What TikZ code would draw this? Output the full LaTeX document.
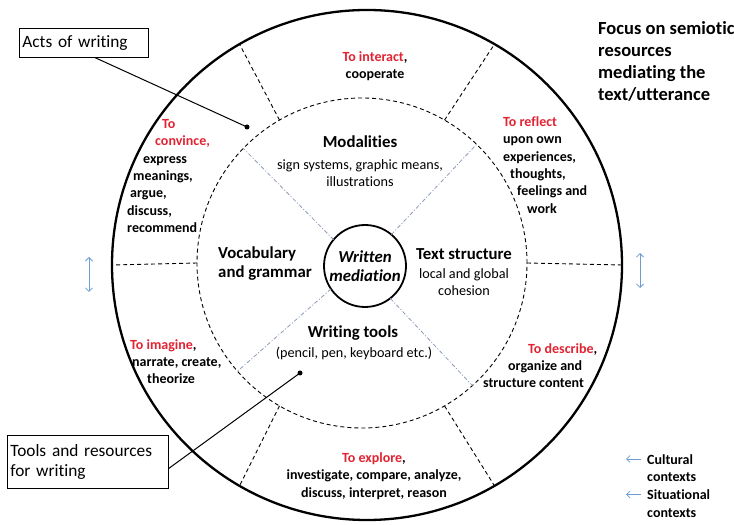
\documentclass[tikz,border=0pt]{standalone}
\usepackage{fontspec}
\setmainfont{Carlito}[Ligatures = NoCommon]
\usetikzlibrary{calc, arrows.meta}

\definecolor{actred}{RGB}{225,35,50}
\definecolor{ctxblue}{RGB}{110,155,210}
\definecolor{rayblue}{RGB}{140,155,182}

\tikzset{
    actlabel/.style = {font = \fontsize{14}{17.3}\selectfont\bfseries, inner sep = 0pt},
    arealabel/.style = {font = \fontsize{16.8}{19}\selectfont\bfseries, inner sep = 0pt},
    areanote/.style = {font = \fontsize{14.2}{17}\selectfont, inner sep = 0pt},
    ringdash/.style = {line width = 0.9pt, dash pattern = on 4pt off 3pt},
    raydash/.style = {rayblue, line width = 0.8pt, dash pattern = on 4pt off 2pt on 1pt off 2pt},
    calloutbox/.style = {draw, line width = 0.8pt, align = left, inner xsep = 3pt, inner ysep = 2pt,
        font = \fontsize{17.3}{20}\selectfont},
    callline/.style = {line width = 1pt},
    dotmark/.style = {circle, fill, inner sep = 0pt, minimum size = 5pt},
    ctxarrow/.style = {ctxblue, line width = 0.8pt, -{Straight Barb[length = 3.5pt, width = 7pt]}}
}

\begin{document}
\begin{tikzpicture}[x = 1pt, y = 1pt]
    \useasboundingbox (+0, +0) rectangle (+734, +525);

    % Centres of the three rings
    \coordinate (outc) at (+367, +260);
    \coordinate (dashc) at (+362, +262);
    \coordinate (innc) at (+365, +259);

    % === Rings ===
    % Outer ring
    \draw[line width = 2.3pt] (outc) circle[radius = 255];

    % Dashed middle ring
    \draw[ringdash] (dashc) circle[radius = 165];

    % Sector borders of the outer ring
    \foreach \a in {0, 60, ..., 300}
        \draw[ringdash] ($(dashc) + (\a:165)$) -- ($(outc) + (\a:255)$);

    % Written mediation
    \node[circle, draw, line width = 1.8pt, minimum size = 82pt, inner sep = 0pt, align = center,
        font = \fontsize{16.8}{19}\selectfont\bfseries\itshape] (written) at (innc) {Written\\mediation};

    % Borders of the inner sectors
    \foreach \a/\b in {50/46, 140/136, 214/221, 308/312}
        \draw[raydash] ($(innc) + (\a:41)$) -- ($(dashc) + (\b:165)$);

    % === Inner sectors ===
    % Modalities
    \node[arealabel] (modal) at (+360, +383) {Modalities};
    \node[areanote, align = center] (modalnote) at (+360, +351.5) {sign systems, graphic means,\\illustrations};

    % Vocabulary and grammar
    \node[arealabel, align = left, anchor = west] (vocab) at (+218, +261.5) {Vocabulary\\and grammar};

    % Text structure
    \node[arealabel] (textstruct) at (+464, +271) {Text structure};
    \node[areanote, align = center] (textnote) at (+464, +242.5) {local and global\\cohesion};

    % Writing tools
    \node[arealabel] (wtools) at (+353, +192) {Writing tools};
    \node[areanote] (wtoolsnote) at (+354, +172) {(pencil, pen, keyboard etc.)};

    % === Outer sectors ===
    % To interact
    \node[actlabel, align = center] (interact) at (+375, +459) {\textcolor{actred}{To interact},\\cooperate};

    % To reflect
    \node[actlabel, align = left, anchor = west] (reflect) at (+503, +360) {\textcolor{actred}{To reflect}\\upon own\\experiences,\\
        \hspace*{7pt}thoughts,\\\hspace*{14pt}feelings and\\\hspace*{24pt}work};

    % To convince
    \node[actlabel, align = left, anchor = west] (convince) at (+127, +349) {\hspace*{35pt}\textcolor{actred}{To}\\
        \hspace*{28pt}\textcolor{actred}{convince,}\\\hspace*{16pt}express\\\hspace*{6pt}meanings,\\
        \hspace*{3pt}argue,\\discuss,\\recommend};

    % To imagine
    \node[actlabel, align = left, anchor = west] (imagine) at (+130, +163.5) {\textcolor{actred}{To imagine},\\
        \hspace*{2pt}narrate, create,\\\hspace*{17pt}theorize};

    % To describe
    \node[actlabel, align = left, anchor = west] (describe) at (+483, +159.5) {\hspace*{45pt}\textcolor{actred}{To describe},\\
        \hspace*{25pt}organize and\\structure content};

    % To explore
    \node[actlabel, align = center] (explore) at (+374, +49) {\textcolor{actred}{To explore},\\
        investigate, compare, analyze,\\discuss, interpret, reason};

    % === Call-outs ===
    % Acts of writing
    \node[calloutbox, anchor = north west, text width = 123pt, minimum height = 29pt] (acts) at (+19, +497) {Acts of writing};
    \node[dotmark] (actsdot) at (+247, +398) {};
    \draw[callline] ($(acts.south) + (+11.5, +0)$) -- (actsdot.center);

    % Tools and resources
    \node[calloutbox, anchor = north west, text width = 155pt, minimum height = 53pt] (toolsbox) at (+7, +90) {Tools and resources\\for writing};
    \node[dotmark] (toolsdot) at (+300, +152) {};
    \draw[callline] ($(toolsbox.east) + (+0, -6.5)$) -- (toolsdot.center);

    % === Right side ===
    % Focus
    \node[font = \fontsize{18.5}{22}\selectfont\bfseries, align = left, anchor = west, inner sep = 0pt] (focus)
        at (+598, +464) {Focus on semiotic\\resources\\mediating the\\text/utterance};

    % Contexts
    \node[actlabel, align = left, anchor = west] (cultural) at (+647, +57) {Cultural\\contexts};
    \node[actlabel, align = left, anchor = west] (situational) at (+647, +21.5) {Situational\\contexts};
    \draw[ctxarrow] ($(cultural.west) + (-6, +9)$) -- ++(-15, +0);
    \draw[ctxarrow] ($(situational.west) + (-6, +9)$) -- ++(-15, +0);

    % Up and down arrows
    \draw[ctxarrow, {Straight Barb[length = 3.5pt, width = 7pt]}-{Straight Barb[length = 3.5pt, width = 7pt]}] (+89, +268) -- (+89, +233);
    \draw[ctxarrow, {Straight Barb[length = 3.5pt, width = 7pt]}-{Straight Barb[length = 3.5pt, width = 7pt]}] (+640, +272) -- (+640, +237);
\end{tikzpicture}
\end{document}
